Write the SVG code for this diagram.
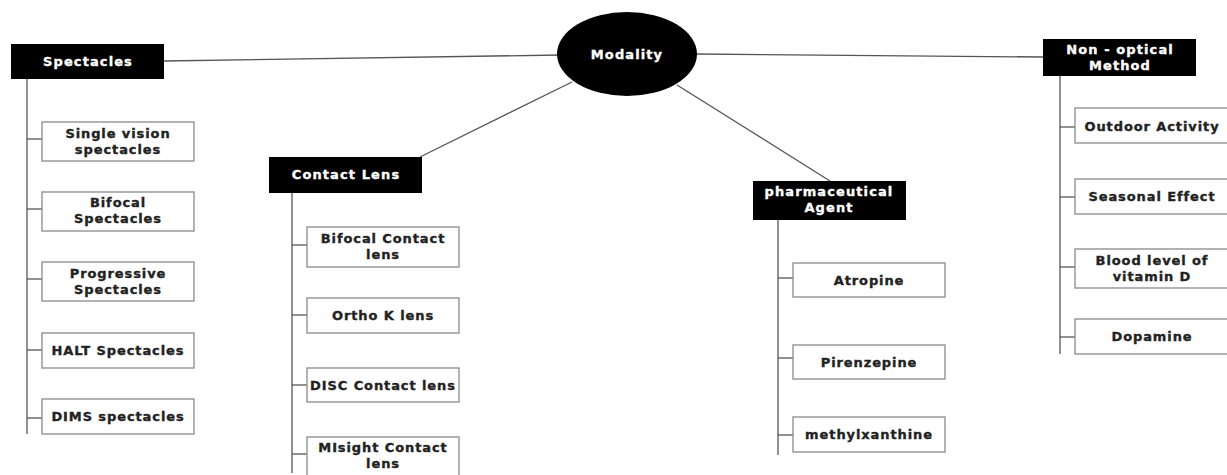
<svg xmlns="http://www.w3.org/2000/svg" width="1227" height="475" viewBox="0 0 1227 475">
<style>
.hdr{fill:#000}
.box{fill:#fff;stroke:#8a8a8a;stroke-width:1.3}
.ln{stroke:#555;stroke-width:1.3;fill:none}
.ht{font-family:"DejaVu Sans",sans-serif;font-weight:bold;font-size:13px;letter-spacing:1.1px;fill:#fff;stroke:#fff;stroke-width:0.35;text-anchor:middle}
.t{font-family:"DejaVu Sans",sans-serif;font-weight:bold;font-size:13px;letter-spacing:0.9px;fill:#222;stroke:#222;stroke-width:0.35;text-anchor:middle}
</style>
<rect width="1227" height="475" fill="#fff"/>
<g id="connectors">
<line class="ln" x1="164" y1="61" x2="560" y2="55"/>
<line class="ln" x1="695" y1="54" x2="1043" y2="57"/>
<line class="ln" x1="572" y1="82" x2="420" y2="157"/>
<line class="ln" x1="677" y1="85" x2="830" y2="181"/>
<line class="ln" x1="27" y1="79" x2="27" y2="434"/>
<line class="ln" x1="27" y1="139" x2="42" y2="139"/>
<line class="ln" x1="27" y1="209" x2="42" y2="209"/>
<line class="ln" x1="27" y1="279" x2="42" y2="279"/>
<line class="ln" x1="27" y1="350" x2="42" y2="350"/>
<line class="ln" x1="27" y1="418" x2="42" y2="418"/>
<line class="ln" x1="292" y1="193" x2="292" y2="473"/>
<line class="ln" x1="292" y1="245" x2="307" y2="245"/>
<line class="ln" x1="292" y1="315" x2="307" y2="315"/>
<line class="ln" x1="292" y1="385" x2="307" y2="385"/>
<line class="ln" x1="292" y1="454" x2="307" y2="454"/>
<line class="ln" x1="778" y1="220" x2="778" y2="455"/>
<line class="ln" x1="778" y1="278" x2="793" y2="278"/>
<line class="ln" x1="778" y1="358" x2="793" y2="358"/>
<line class="ln" x1="778" y1="435" x2="793" y2="435"/>
<line class="ln" x1="1060" y1="76" x2="1060" y2="354"/>
<line class="ln" x1="1060" y1="127" x2="1075" y2="127"/>
<line class="ln" x1="1060" y1="197" x2="1075" y2="197"/>
<line class="ln" x1="1060" y1="267" x2="1075" y2="267"/>
<line class="ln" x1="1060" y1="337" x2="1075" y2="337"/>
</g>
<g id="modality">
<ellipse cx="627" cy="54" rx="70" ry="42" fill="#000"/>
<text class="ht" x="627" y="59" font-size="15" letter-spacing="1.2">Modality</text>
</g>
<g id="spectacles">
<rect class="hdr" x="11" y="44" width="153" height="35"/>
<text class="ht" x="88" y="66">Spectacles</text>
</g>
<g id="single-vision"><rect class="box" x="42" y="122" width="152" height="39"/><text class="t" x="118" y="138">Single vision</text><text class="t" x="118" y="154">spectacles</text></g>
<g id="bifocal-spectacles"><rect class="box" x="42" y="192" width="152" height="39"/><text class="t" x="118" y="207">Bifocal</text><text class="t" x="118" y="223">Spectacles</text></g>
<g id="progressive"><rect class="box" x="42" y="262" width="152" height="39"/><text class="t" x="118" y="278">Progressive</text><text class="t" x="118" y="294">Spectacles</text></g>
<g id="halt"><rect class="box" x="42" y="333" width="152" height="35"/><text class="t" x="118" y="355">HALT Spectacles</text></g>
<g id="dims"><rect class="box" x="42" y="399" width="152" height="35"/><text class="t" x="118" y="421">DIMS spectacles</text></g>
<g id="contact-lens">
<rect class="hdr" x="269" y="157" width="153" height="36"/>
<text class="ht" x="346" y="179">Contact Lens</text>
</g>
<g id="bifocal-contact"><rect class="box" x="307" y="227" width="152" height="40"/><text class="t" x="383" y="243">Bifocal Contact</text><text class="t" x="383" y="259">lens</text></g>
<g id="ortho-k"><rect class="box" x="307" y="298" width="152" height="35"/><text class="t" x="383" y="320">Ortho K lens</text></g>
<g id="disc"><rect class="box" x="307" y="368" width="152" height="34"/><text class="t" x="383" y="390">DISC Contact lens</text></g>
<g id="misight"><rect class="box" x="307" y="437" width="152" height="42"/><text class="t" x="383" y="452">MIsight Contact</text><text class="t" x="383" y="468">lens</text></g>
<g id="pharmaceutical">
<rect class="hdr" x="753" y="181" width="153" height="39"/>
<text class="ht" x="829" y="196">pharmaceutical</text>
<text class="ht" x="829" y="212">Agent</text>
</g>
<g id="atropine"><rect class="box" x="793" y="263" width="152" height="34"/><text class="t" x="869" y="285">Atropine</text></g>
<g id="pirenzepine"><rect class="box" x="793" y="345" width="152" height="34"/><text class="t" x="869" y="367">Pirenzepine</text></g>
<g id="methylxanthine"><rect class="box" x="793" y="417" width="152" height="35"/><text class="t" x="869" y="439">methylxanthine</text></g>
<g id="non-optical">
<rect class="hdr" x="1043" y="39" width="153" height="37"/>
<text class="ht" x="1120" y="54">Non - optical</text>
<text class="ht" x="1120" y="70">Method</text>
</g>
<g id="outdoor"><rect class="box" x="1075" y="108" width="160" height="35"/><text class="t" x="1152" y="131">Outdoor Activity</text></g>
<g id="seasonal"><rect class="box" x="1075" y="179" width="160" height="35"/><text class="t" x="1152" y="201">Seasonal Effect</text></g>
<g id="vitamin-d"><rect class="box" x="1075" y="249" width="160" height="39"/><text class="t" x="1152" y="265">Blood level of</text><text class="t" x="1152" y="281">vitamin D</text></g>
<g id="dopamine"><rect class="box" x="1075" y="319" width="160" height="35"/><text class="t" x="1152" y="341">Dopamine</text></g>
</svg>
